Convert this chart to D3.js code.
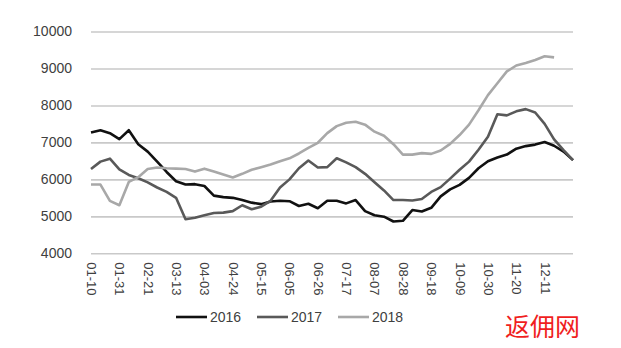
<!DOCTYPE html>
<html>
<head>
<meta charset="utf-8">
<script src="https://cdn.jsdelivr.net/npm/d3@7"></script>
<style>
  html, body { margin: 0; padding: 0; background: #fff; }
  svg { display: block; }
</style>
</head>
<body>
<svg id="chart" width="621" height="348"></svg>
<script>
const categories = ["01-10","01-17","01-24","01-31","02-07","02-14","02-21","02-28","03-06","03-13",
  "03-20","03-27","04-03","04-10","04-17","04-24","05-01","05-08","05-15","05-22",
  "05-29","06-05","06-12","06-19","06-26","07-03","07-10","07-17","07-24","07-31",
  "08-07","08-14","08-21","08-28","09-04","09-11","09-18","09-25","10-02","10-09",
  "10-16","10-23","10-30","11-06","11-13","11-20","11-27","12-04","12-11","12-18",
  "12-25","01-01"];
const tickLabels = ["01-10","01-31","02-21","03-13","04-03","04-24","05-15","06-05","06-26",
  "07-17","08-07","08-28","09-18","10-09","10-30","11-20","12-11"];
const yTicks = [4000, 5000, 6000, 7000, 8000, 9000, 10000];
const seriesNames = ["2016", "2017", "2018"];

const values2016 = [7270,7330,7250,7090,7330,6950,6750,6480,6200,5950,
  5860,5870,5820,5560,5520,5500,5440,5370,5330,5400,
  5420,5410,5280,5340,5220,5420,5420,5350,5440,5140,
  5030,4990,4860,4880,5170,5130,5230,5540,5730,5850,
  6040,6300,6490,6590,6670,6830,6900,6940,7010,6910,
  6750,6520];
const values2017 = [6280,6480,6560,6270,6120,6030,5920,5780,5660,5500,
  4920,4960,5030,5090,5100,5140,5300,5190,5260,5420,
  5780,6000,6300,6510,6320,6330,6570,6460,6330,6150,
  5920,5700,5440,5440,5430,5470,5660,5790,6020,6260,
  6480,6800,7150,7760,7730,7840,7900,7810,7500,7080,
  6790,6520];
const values2018 = [5860,5860,5420,5300,5930,6060,6280,6320,6300,6290,
  6280,6210,6290,6210,6130,6050,6150,6260,6330,6400,
  6490,6570,6700,6850,6990,7250,7440,7530,7560,7480,
  7290,7180,6950,6670,6670,6710,6690,6780,6960,7200,
  7480,7870,8280,8600,8920,9080,9150,9230,9330,9300,
  null,null];

const colors = ["#111111", "#595959", "#a8a8a8"];
const allSeries = [values2016, values2017, values2018];

const svg = d3.select("#chart");
const font = "'Liberation Sans', Arial, sans-serif";

const x = d3.scalePoint().domain(categories).range([91, 573]);
const y = d3.scaleLinear().domain([4000, 10000]).range([253.3, 31.5]);

// grid + y axis
const yAxis = d3.axisLeft(y).tickValues(yTicks).tickSize(-(573 - 91)).tickPadding(19).tickFormat(d3.format("d"));
const gy = svg.append("g").attr("transform", "translate(91,0)").call(yAxis);
gy.select(".domain").remove();
gy.selectAll(".tick line").attr("stroke", "#c9c9c9").attr("stroke-width", 1.6);
gy.selectAll(".tick text").attr("fill", "#404040").style("font-family", font).style("font-size", "14px");

// x axis labels
const xAxis = d3.axisBottom(x).tickValues(tickLabels).tickSize(0).tickPadding(0);
const gx = svg.append("g").attr("transform", "translate(0,253.3)").call(xAxis);
gx.select(".domain").remove();
gx.selectAll(".tick text")
  .attr("fill", "#404040")
  .style("font-family", font).style("font-size", "13px")
  .attr("text-anchor", "start")
  .attr("transform", "rotate(90)")
  .attr("x", 9).attr("y", 0).attr("dy", "0.35em");

// lines
const line = d3.line()
  .defined(d => d != null)
  .x((d, i) => x(categories[i]))
  .y(d => y(d));

allSeries.forEach((vals, k) => {
  svg.append("path")
    .datum(vals)
    .attr("fill", "none")
    .attr("stroke", colors[k])
    .attr("stroke-width", 2.6)
    .attr("stroke-linejoin", "round")
    .attr("d", line);
});

// legend
const legendX = [176, 257, 338];
seriesNames.forEach((name, k) => {
  const g = svg.append("g").attr("transform", `translate(${legendX[k]},317)`);
  g.append("line").attr("x1", 0).attr("x2", 31).attr("y1", 0).attr("y2", 0)
    .attr("stroke", colors[k]).attr("stroke-width", 2.6);
  g.append("text").attr("x", 34).attr("y", 0).attr("dy", "0.35em")
    .attr("fill", "#404040").style("font-family", font).style("font-size", "14px")
    .text(name);
});

// watermark
svg.append("text")
  .attr("x", 505).attr("y", 336)
  .attr("fill", "#f01e1e")
  .style("font-family", "'Noto Sans CJK SC', sans-serif")
  .style("font-size", "25px")
  .text("返佣网");
</script>
</body>
</html>
